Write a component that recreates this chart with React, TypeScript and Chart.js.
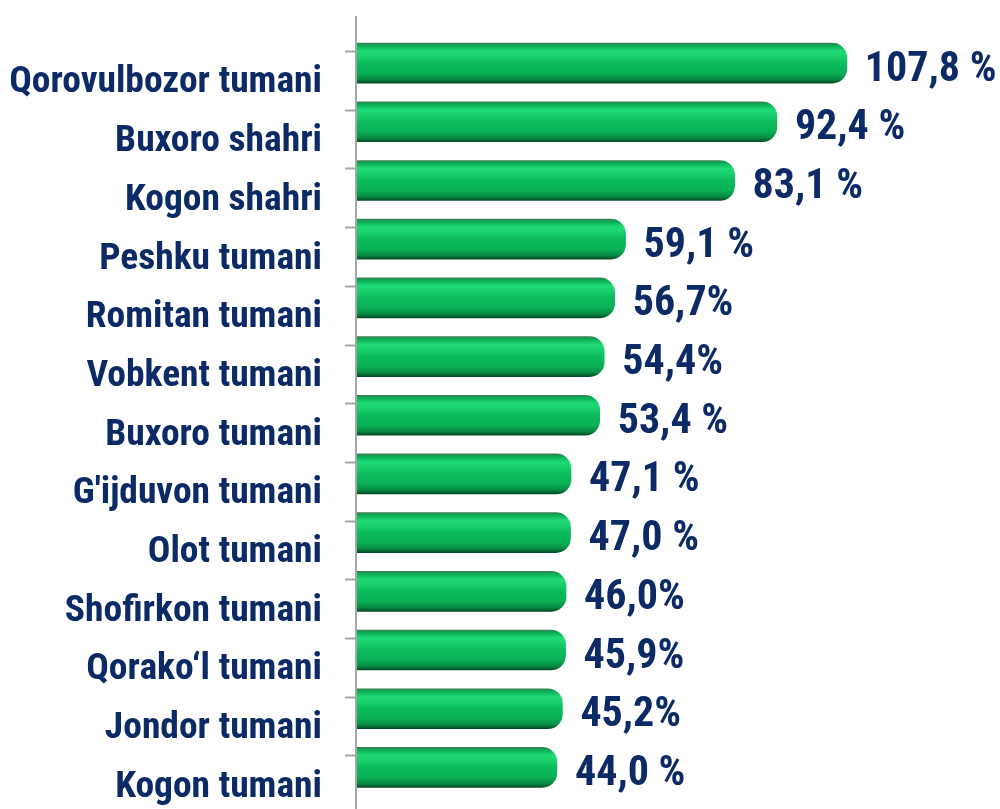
import React, { useEffect, useRef } from "react";
import { Chart, registerables } from "chart.js";

Chart.register(...registerables);

const categories = [
  "Qorovulbozor tumani",
  "Buxoro shahri",
  "Kogon shahri",
  "Peshku tumani",
  "Romitan tumani",
  "Vobkent tumani",
  "Buxoro tumani",
  "G'ijduvon tumani",
  "Olot tumani",
  "Shofirkon tumani",
  "Qorako\u2018l tumani",
  "Jondor tumani",
  "Kogon tumani",
];

const values = [107.8, 92.4, 83.1, 59.1, 56.7, 54.4, 53.4, 47.1, 47.0, 46.0, 45.9, 45.2, 44.0];

const valueLabels = [
  "107,8 %",
  "92,4 %",
  "83,1 %",
  "59,1 %",
  "56,7%",
  "54,4%",
  "53,4 %",
  "47,1 %",
  "47,0 %",
  "46,0%",
  "45,9%",
  "45,2%",
  "44,0 %",
];

const FONT = "'Roboto Condensed', 'Liberation Sans Narrow', 'DejaVu Sans Condensed', Roboto, sans-serif";
const NAVY = "#0c2a65";

export default function App() {
  const ref = useRef<HTMLCanvasElement | null>(null);

  useEffect(() => {
    if (!ref.current) return;

    const axisPlugin = {
      id: "axisPlugin",
      beforeDatasetsDraw(chart: any) {
        const ctx = chart.ctx;
        const y = chart.scales.y;
        const x0 = 356;
        ctx.save();
        ctx.strokeStyle = "#a6a6a6";
        ctx.lineWidth = 2;
        ctx.beginPath();
        ctx.moveTo(x0, 16);
        ctx.lineTo(x0, 809);
        for (let i = 0; i < categories.length; i++) {
          const py = Math.round(y.getPixelForValue(i) - 12) + 0.5;
          ctx.moveTo(345, py);
          ctx.lineTo(x0, py);
        }
        ctx.stroke();
        ctx.restore();
      },
    };

    const valuePlugin = {
      id: "valuePlugin",
      afterDatasetsDraw(chart: any) {
        const ctx = chart.ctx;
        const meta = chart.getDatasetMeta(0);
        ctx.save();
        ctx.fillStyle = NAVY;
        ctx.font = "bold 42px " + FONT;
        ctx.textAlign = "left";
        ctx.textBaseline = "middle";
        meta.data.forEach((el: any, i: number) => {
          ctx.fillText(valueLabels[i], el.x + 18, el.y + 7);
        });
        ctx.restore();
      },
    };

    const chart = new Chart(ref.current, {
      type: "bar",
      data: {
        labels: categories,
        datasets: [
          {
            data: values,
            backgroundColor: (c: any) => {
              const ch = c.chart;
              const ys = ch.scales && ch.scales.y;
              if (!ys || c.dataIndex === undefined) return "#0cb85a";
              const cy = ys.getPixelForValue(c.dataIndex);
              if (!isFinite(cy)) return "#0cb85a";
              const g = ch.ctx.createLinearGradient(0, cy - 20, 0, cy + 20);
              g.addColorStop(0, "#3a7f55");
              g.addColorStop(0.06, "#0aaa53");
              g.addColorStop(0.2, "#1fda76");
              g.addColorStop(0.32, "#1ad16e");
              g.addColorStop(0.5, "#0cbb5c");
              g.addColorStop(0.75, "#0ab056");
              g.addColorStop(0.9, "#078a43");
              g.addColorStop(1, "#044d26");
              return g;
            },
            borderWidth: 0,
            borderRadius: 15,
            borderSkipped: "start",
            barThickness: 40,
          },
        ],
      },
      options: {
        indexAxis: "y",
        responsive: false,
        animation: false,
        layout: { padding: { top: 33.75, bottom: 12.25, left: 0, right: 0 } },
        plugins: { legend: { display: false }, tooltip: { enabled: false } },
        scales: {
          x: { display: false, min: 0, max: 141.5 },
          y: {
            afterFit: (s: any) => {
              s.width = 357;
              s.paddingTop = 0;
              s.paddingBottom = 0;
            },
            grid: { display: false, drawTicks: false },
            border: { display: false },
            ticks: {
              color: NAVY,
              font: { family: FONT, size: 37.5, weight: "bold" },
              padding: 35,
              labelOffset: 20,
            },
          },
        },
      },
      plugins: [axisPlugin, valuePlugin],
    } as any);

    return () => chart.destroy();
  }, []);

  return (
    <div style={{ position: "absolute", left: 0, top: 0, width: 1000, height: 809, background: "#fff" }}>
      <canvas ref={ref} width={1000} height={809} style={{ display: "block" }} />
    </div>
  );
}
